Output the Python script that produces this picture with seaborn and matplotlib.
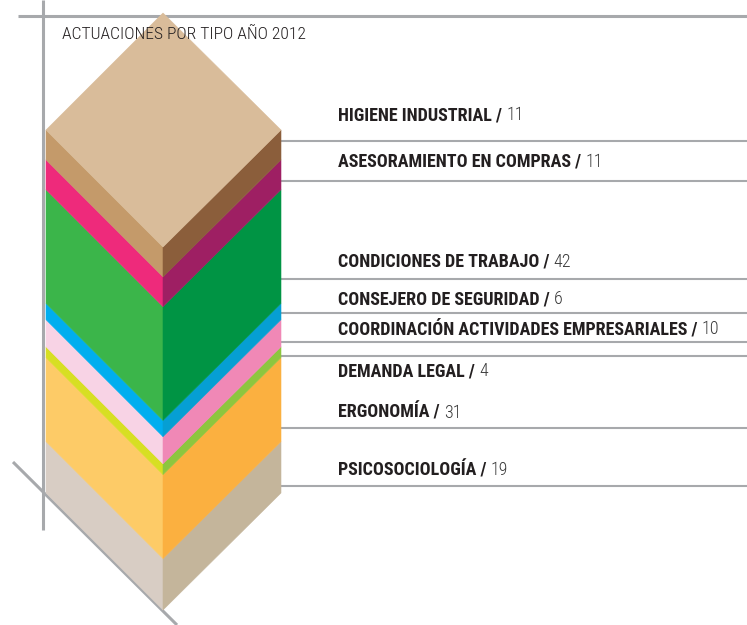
import matplotlib
matplotlib.use("Agg")
import matplotlib.pyplot as plt
import seaborn as sns
import numpy as np
from matplotlib import font_manager as fm

# ---------------- data ----------------
categories = ["PSICOSOCIOLOGÍA", "ERGONOMÍA", "DEMANDA LEGAL",
              "COORDINACIÓN ACTIVIDADES EMPRESARIALES", "CONSEJERO DE SEGURIDAD",
              "CONDICIONES DE TRABAJO", "ASESORAMIENTO EN COMPRAS", "HIGIENE INDUSTRIAL"]
values = [19, 31, 4, 10, 6, 42, 11, 11]
left_colors = ["#D8CDC4", "#FDCB67", "#D7DF23", "#F8D3E5", "#00AEEF",
               "#3BB54A", "#EE2A7B", "#C49A6A"]
right_colors = ["#C4B59B", "#FBB040", "#8DC63F", "#F088B6", "#069FD3",
                "#009444", "#9E1F63", "#8B5E3B"]
top_color = "#D9BC9A"
title = "ACTUACIONES POR TIPO AÑO 2012"

# ---------------- layout (pixels) ----------------
W, H = 747, 625
BASE_PX, TOP_PX = 493, 130
XL, XC, XR = 46, 163, 281
DROP = 117
label_text_px = [470, 412.5, 371, 329.5, 299, 262, 162, 115]
line_px = [486, 428.3, 355.7, 342.3, 312.7, 279, 181, 140.7]
GRAY = "#A7A9AC"
DARK = "#231F20"

sns.set_theme(style="white")
avail = {f.name for f in fm.fontManager.ttflist}
cands = ["Roboto Condensed", "Liberation Sans Narrow", "Open Sans Condensed",
         "Noto Sans Condensed", "DejaVu Sans"]
font = next(c for c in cands if c in avail)
plt.rcParams['font.family'] = [font, 'DejaVu Sans']
stretch = 'condensed'
LABEL_FS = 13.0

fig = plt.figure(figsize=(W / 100, H / 100), dpi=100)
ax = fig.add_axes([0, 0, 1, 1])
total = sum(values)
k = (BASE_PX - TOP_PX) / total
ax.set_xlim(0, W)
ax.set_ylim((BASE_PX - H) / k, BASE_PX / k)
ax.axis("off")
depth = DROP / k


def p2v(p):
    return (BASE_PX - p) / k


# frame lines
lw = 2.2
ax.plot([18, W], [p2v(15.7), p2v(15.7)], color=GRAY, lw=lw, zorder=1, solid_capstyle='butt')
ax.plot([43, 43], [p2v(0), p2v(530)], color=GRAY, lw=lw, zorder=1, solid_capstyle='butt')
ax.plot([13, 177], [p2v(462), p2v(625)], color=GRAY, lw=lw, zorder=1, solid_capstyle='butt')

# prism
cum = np.concatenate([[0], np.cumsum(values)])
for i, v in enumerate(values):
    b, t = cum[i], cum[i + 1]
    ax.fill([XL, XC, XC, XL], [b, b - depth, t - depth, t],
            color=left_colors[i], lw=0.4, ec=left_colors[i], zorder=3)
    ax.fill([XC, XR, XR, XC], [b - depth, b, t, t - depth],
            color=right_colors[i], lw=0.4, ec=right_colors[i], zorder=3)
T = cum[-1]
ax.fill([XL, XC, XR, XC], [T, T + depth, T, T - depth],
        color=top_color, lw=0.4, ec=top_color, zorder=4)

# label lines
for p in line_px:
    ax.plot([XR, W], [p2v(p), p2v(p)], color=GRAY, lw=1.5, zorder=2, solid_capstyle='butt')

# title
ax.text(62, p2v(34), title, fontsize=12.6, color=DARK, va="center", ha="left",
        fontstretch=stretch, fontweight="light", zorder=5)

# labels
fig.canvas.draw()
renderer = fig.canvas.get_renderer()
for cat, v, p in zip(categories, values, label_text_px):
    t1 = ax.text(338, p2v(p), cat + " / ", fontsize=LABEL_FS, fontweight="bold",
                 color=DARK, va="center", ha="left", fontstretch=stretch, zorder=5)
    bb = t1.get_window_extent(renderer=renderer)
    x_end = ax.transData.inverted().transform((bb.x1, bb.y0))[0]
    ax.text(x_end, p2v(p), str(v), fontsize=LABEL_FS, color="#3a3a3a",
            va="center", ha="left", fontstretch=stretch, fontweight="light", zorder=5)

fig.savefig("out.png", dpi=100)
